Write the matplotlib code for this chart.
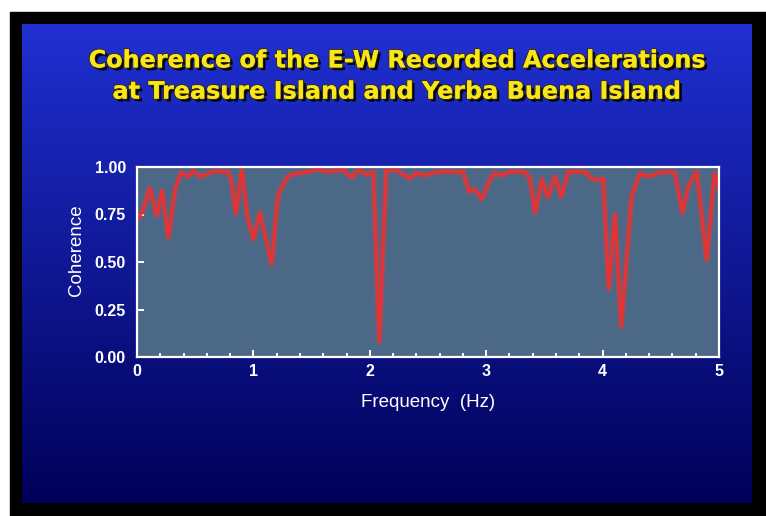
import numpy as np
from matplotlib import pyplot as plt
from matplotlib import patheffects as pe
from matplotlib.patches import Rectangle
from matplotlib.ticker import MultipleLocator

# coherence
freq = [0.00, 0.05, 0.11, 0.17, 0.215, 0.27, 0.33, 0.38, 0.44, 0.48, 0.54, 0.60,
        0.66, 0.72, 0.78, 0.81, 0.85, 0.90, 0.95, 1.00, 1.055, 1.157, 1.21, 1.29,
        1.34, 1.43, 1.50, 1.56, 1.63, 1.70, 1.77, 1.845, 1.90, 1.97, 2.03, 2.082,
        2.14, 2.22, 2.345, 2.40, 2.47, 2.585, 2.70, 2.80, 2.855, 2.90, 2.96, 3.03,
        3.076, 3.13, 3.20, 3.33, 3.376, 3.42, 3.48, 3.53, 3.59, 3.645, 3.705, 3.78,
        3.85, 3.906, 3.96, 4.006, 4.052, 4.107, 4.16, 4.25, 4.32, 4.407, 4.48, 4.55,
        4.62, 4.685, 4.74, 4.81, 4.894, 4.96, 5.00]
coh = [0.72, 0.77, 0.89, 0.745, 0.875, 0.63, 0.89, 0.97, 0.95, 0.98, 0.95, 0.96,
       0.98, 0.975, 0.975, 0.93, 0.755, 0.985, 0.73, 0.62, 0.76, 0.49, 0.85, 0.945,
       0.965, 0.97, 0.98, 0.99, 0.975, 0.98, 0.985, 0.945, 0.985, 0.96, 0.975, 0.08,
       0.98, 0.985, 0.94, 0.97, 0.955, 0.975, 0.975, 0.975, 0.87, 0.885, 0.83, 0.93,
       0.97, 0.955, 0.975, 0.975, 0.94, 0.76, 0.935, 0.84, 0.95, 0.845, 0.975, 0.975,
       0.975, 0.94, 0.93, 0.94, 0.36, 0.75, 0.16, 0.85, 0.965, 0.95, 0.97, 0.975,
       0.97, 0.76, 0.905, 0.975, 0.51, 0.965, 0.89]

title = "Coherence of the E-W Recorded Accelerations\nat Treasure Island and Yerba Buena Island"
yticks = [0, 0.25, 0.5, 0.75, 1.0]
xticks = [0, 1, 2, 3, 4, 5]

W, H = 766, 516
fig = plt.figure(figsize=(W / 100, H / 100), dpi=100)
fig.patch.set_facecolor('white')

# slide background: black frame + blue gradient
bg = fig.add_axes([0, 0, 1, 1])
bg.set_xlim(0, W)
bg.set_ylim(0, H)
bg.axis('off')
bg.add_patch(Rectangle((10, 0), W - 10, H - 12, color='black'))
top = np.array([32, 48, 210]) / 255
bot = np.array([0, 0, 88]) / 255
t = np.linspace(0, 1, 256)[:, None]
grad = (1 - t) * top + t * bot
bg.imshow(grad[:, None, :], extent=(22, 752, 13, H - 24), aspect='auto', zorder=1)

fig.text(0.518, 1 - 76 / H, title, ha='center', va='center', fontsize=17.2,
         fontweight='bold', family='DejaVu Sans', color='#f8e61a',
         linespacing=1.38,
         path_effects=[pe.withSimplePatchShadow(offset=(2, -2), shadow_rgbFace='black', alpha=0.9),
                       pe.withStroke(linewidth=1.4, foreground='#3a3000'), pe.Normal()])

ax = fig.add_axes([137 / W, 1 - 357 / H, 582 / W, 190 / H])
ax.set_facecolor('#4b6987')
ax.plot(freq, coh, color='#ff3030', lw=4.5, alpha=0.3, solid_joinstyle='round')
ax.plot(freq, coh, color='#e83232', lw=2.2, solid_joinstyle='round')
ax.set_xlim(0, 5)
ax.set_ylim(0, 1)
ax.set_xticks(xticks)
ax.set_yticks(yticks)
ax.set_yticklabels(['%.2f' % v for v in yticks])
ax.xaxis.set_minor_locator(MultipleLocator(0.2))
for s in ax.spines.values():
    s.set_color('white')
    s.set_linewidth(1.6)
ax.tick_params(which='both', direction='in', colors='white', width=1.4)
ax.tick_params(axis='y', length=5, pad=8, labelsize=11.5)
ax.tick_params(axis='x', which='major', length=5, pad=5, labelsize=11.5)
ax.tick_params(axis='x', which='minor', length=3)
for lab in ax.get_xticklabels() + ax.get_yticklabels():
    lab.set_fontweight('bold')
    lab.set_family('Liberation Sans')
ax.set_xlabel('Frequency  (Hz)', color='white', fontsize=13.5, family='Liberation Sans', labelpad=11)
ax.set_ylabel('Coherence', color='white', fontsize=13.5, family='Liberation Sans', labelpad=7, y=0.56)

plt.savefig('out.png', dpi=100)
